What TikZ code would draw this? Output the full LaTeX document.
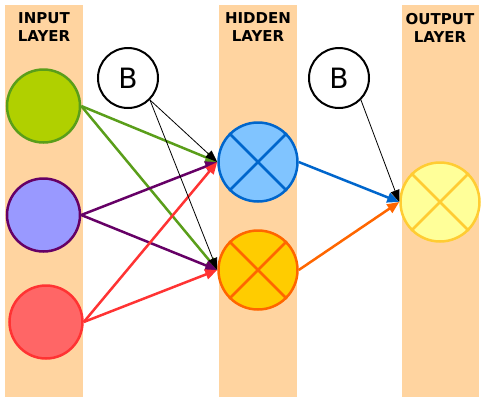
\documentclass[tikz,border=0pt]{standalone}
\usepackage{fontspec}
\setmainfont{DejaVu Sans}
\usetikzlibrary{arrows.meta}
\definecolor{band}{HTML}{FFD4A0}
\definecolor{gline}{HTML}{5A9E1A}
\definecolor{gfill}{HTML}{B0D000}
\definecolor{pline}{HTML}{660066}
\definecolor{pfill}{HTML}{9999FF}
\definecolor{rline}{HTML}{FF3333}
\definecolor{rfill}{HTML}{FF6666}
\definecolor{bline}{HTML}{0066CC}
\definecolor{bfill}{HTML}{80C4FF}
\definecolor{oline}{HTML}{FF6600}
\definecolor{ofill}{HTML}{FFCC00}
\definecolor{yline}{HTML}{FFCC33}
\definecolor{yfill}{HTML}{FFFF99}
\tikzset{
  neuron/.style={circle, draw, line width=2.5pt, minimum size=#1, inner sep=0pt},
  bias/.style={circle, draw=black, line width=2pt, fill=white, minimum size=60pt, inner sep=0pt, font=\fontsize{28}{28}\selectfont},
  label/.style={font=\bfseries\fontsize{15}{18}\selectfont, align=center},
  conn/.style={line width=2.5pt, -{Triangle[length=12pt,width=10pt]}},
  bconn/.style={line width=0.8pt, black, -{Triangle[length=12pt,width=9pt]}},
}
\begin{document}
\begin{tikzpicture}[x=1pt,y=-1pt]
\useasboundingbox (0,0) rectangle (488,400);
\fill[band] (5,5) rectangle (83,397);
\fill[band] (219,5) rectangle (297,397);
\fill[band] (402,5) rectangle (479,397);
\node[label] (lin) at (44,27.5) {INPUT\\LAYER};
\node[label] (lhid) at (258,27.5) {HIDDEN\\LAYER};
\node[label] (lout) at (440,27.5) {OUTPUT\\LAYER};
\node[neuron=73pt, draw=gline, fill=gfill] (i1) at (43.5,106) {};
\node[neuron=73pt, draw=pline, fill=pfill] (i2) at (43.5,215) {};
\node[neuron=73pt, draw=rline, fill=rfill] (i3) at (46,322) {};
\node[bias] (b1) at (128,78) {B};
\node[bias] (b2) at (339,78) {B};
\node[neuron=79pt, draw=bline, fill=bfill] (h1) at (258,162) {};
\node[neuron=79pt, draw=oline, fill=ofill] (h2) at (258,270) {};
\node[neuron=79pt, draw=yline, fill=yfill] (o) at (440,202) {};
\draw[bline, line width=2.5pt] (h1.north west) -- (h1.south east) (h1.north east) -- (h1.south west);
\draw[oline, line width=2.5pt] (h2.north west) -- (h2.south east) (h2.north east) -- (h2.south west);
\draw[yline, line width=2.5pt] (o.north west) -- (o.south east) (o.north east) -- (o.south west);
\draw[conn, gline] (i1.east) -- (h1.west);
\draw[conn, gline] (i1.east) -- (h2.west);
\draw[conn, pline] (i2.east) -- (h1.west);
\draw[conn, pline] (i2.east) -- (h2.west);
\draw[conn, rline] (i3.east) -- (h1.west);
\draw[conn, rline] (i3.east) -- (h2.west);
\draw[bconn] (b1.south east) -- (h1.west);
\draw[bconn] (b1.south east) -- (h2.west);
\draw[conn, bline] (h1.east) -- (o.west);
\draw[conn, oline] (h2.east) -- (o.west);
\draw[bconn] (b2.south east) -- (o.west);
\end{tikzpicture}
\end{document}
